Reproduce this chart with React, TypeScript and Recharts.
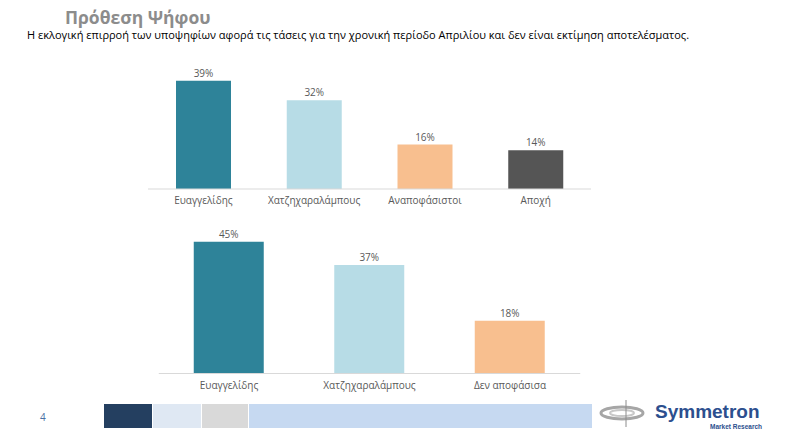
import { BarChart, Bar, XAxis, YAxis, Cell, LabelList } from "recharts";

const topCategories = ["Ευαγγελίδης", "Χατζηχαραλάμπους", "Αναποφάσιστοι", "Αποχή"];
const topValues = [39, 32, 16, 14];
const topColors = ["#2e8399", "#b7dce6", "#f8bf8f", "#555555"];

const bottomCategories = ["Ευαγγελίδης", "Χατζηχαραλάμπους", "Δεν αποφάσισα"];
const bottomValues = [45, 37, 18];
const bottomColors = ["#2e8399", "#b7dce6", "#f8bf8f"];

const FONT = "'Open Sans', sans-serif";

const topData = topCategories.map((name, i) => ({ name, value: topValues[i] }));
const bottomData = bottomCategories.map((name, i) => ({ name, value: bottomValues[i] }));

const tickStyle = { fontSize: 10, fill: "#595959", fontFamily: FONT };
const labelStyle = { fontSize: 10, fill: "#595959", fontFamily: FONT };

function Logo() {
  return (
    <svg width={180} height={40} style={{ position: "absolute", left: 598, top: 398 }}>
      <ellipse cx={24} cy={15} rx={21} ry={6} fill="none" stroke="#a6a6a6" strokeWidth={3} />
      <ellipse cx={24} cy={15} rx={12} ry={3} fill="none" stroke="#c8c8c8" strokeWidth={2} />
      <line x1={28} y1={2} x2={28} y2={29} stroke="#8c8c8c" strokeWidth={1} />
      <text x={57} y={20} fontFamily="'Liberation Sans', Arial, sans-serif" fontWeight="bold" fontSize={19} fill="#2c4f8e">
        Symmetron
      </text>
      <text x={164} y={31} textAnchor="end" fontFamily="'Liberation Sans', Arial, sans-serif" fontWeight="bold" fontSize={6.5} fill="#2c4f8e">
        Market Research
      </text>
    </svg>
  );
}

export default function App() {
  return (
    <div style={{ position: "absolute", left: 0, top: 0, width: 800, height: 444, background: "#fff", overflow: "hidden", fontFamily: FONT }}>
      <div style={{ position: "absolute", left: 65, top: 5, fontSize: 17.5, fontWeight: "bold", color: "#8c8c8c" }}>
        Πρόθεση Ψήφου
      </div>
      <div style={{ position: "absolute", left: 27, top: 27, fontSize: 11, color: "#000" }}>
        Η εκλογική επιρροή των υποψηφίων αφορά τις τάσεις για την χρονική περίοδο Απριλίου και δεν είναι εκτίμηση αποτελέσματος.
      </div>

      <div style={{ position: "absolute", left: 0, top: 50 }}>
        <BarChart width={800} height={170} data={topData} margin={{ top: 28, right: 209, bottom: 1, left: 148 }}>
          <XAxis dataKey="name" tickLine={false} axisLine={{ stroke: "#d9d9d9" }} tick={tickStyle} height={30} interval={0} />
          <YAxis hide domain={[0, 40]} />
          <Bar dataKey="value" barSize={55} isAnimationActive={false}>
            {topData.map((d, i) => (
              <Cell key={d.name} fill={topColors[i]} />
            ))}
            <LabelList dataKey="value" position="top" offset={4} formatter={(v: number) => `${v}%`} style={labelStyle} />
          </Bar>
        </BarChart>
      </div>

      <div style={{ position: "absolute", left: 0, top: 215 }}>
        <BarChart width={800} height={190} data={bottomData} margin={{ top: 12, right: 219.75, bottom: 1.5, left: 158.75 }}>
          <XAxis dataKey="name" tickLine={false} axisLine={{ stroke: "#d9d9d9" }} tick={tickStyle} height={30} interval={0} />
          <YAxis hide domain={[0, 50]} />
          <Bar dataKey="value" barSize={70} isAnimationActive={false}>
            {bottomData.map((d, i) => (
              <Cell key={d.name} fill={bottomColors[i]} />
            ))}
            <LabelList dataKey="value" position="top" offset={4} formatter={(v: number) => `${v}%`} style={labelStyle} />
          </Bar>
        </BarChart>
      </div>

      <div style={{ position: "absolute", left: 40, top: 410, fontSize: 10, color: "#4a6fa5" }}>4</div>
      <div style={{ position: "absolute", left: 104, top: 404, width: 48, height: 24, background: "#243f60" }} />
      <div style={{ position: "absolute", left: 153, top: 404, width: 48, height: 24, background: "#dfe8f3" }} />
      <div style={{ position: "absolute", left: 202, top: 404, width: 46, height: 24, background: "#d9d9d9" }} />
      <div style={{ position: "absolute", left: 249, top: 404, width: 343, height: 24, background: "#c6d9f1" }} />
      <Logo />
    </div>
  );
}
